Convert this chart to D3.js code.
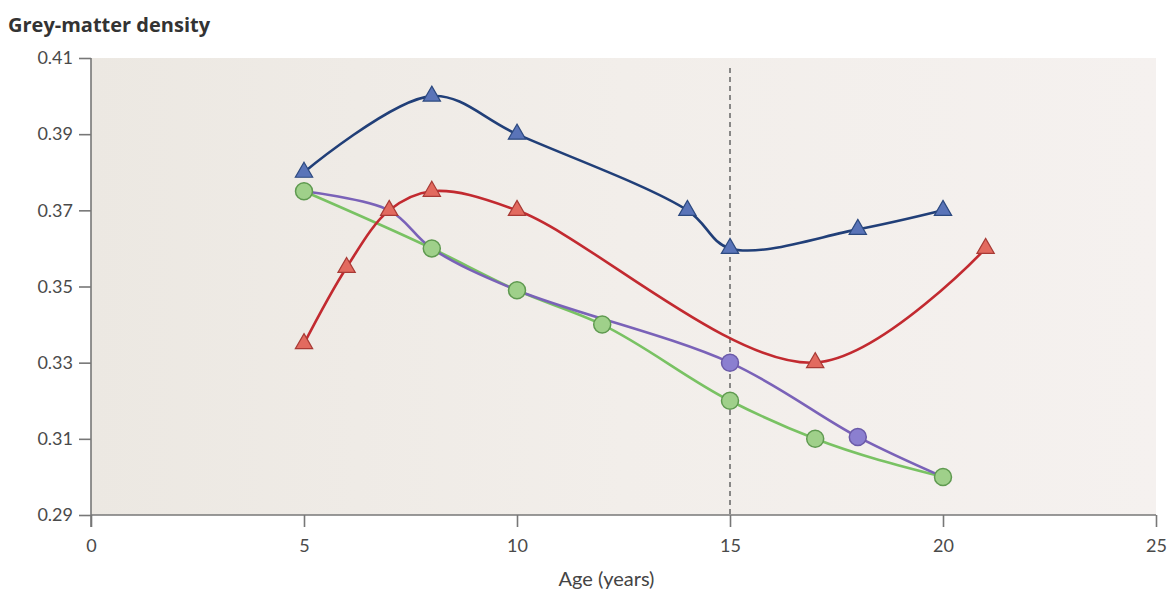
<!DOCTYPE html>
<html>
<head>
<meta charset="utf-8">
<script src="https://cdn.jsdelivr.net/npm/d3@7"></script>
<style>
  body { margin: 0; background: #fff; }
  svg text { font-family: "Open Sans", "Noto Sans", sans-serif; }
  .axis path, .axis line { stroke: #777; stroke-width: 1.6; }
  .axis text { fill: #4a4a4a; font-size: 18px; font-family: Lato, "Open Sans", sans-serif; font-weight: 400; }
</style>
</head>
<body>
<svg id="chart" width="1176" height="593"></svg>
<script>
// data
var blueAge = [5, 8, 10, 14, 15, 18, 20];
var blueVal = [0.380, 0.400, 0.390, 0.370, 0.360, 0.365, 0.370];

var redAge = [5, 6, 7, 8, 10, 17, 21];
var redVal = [0.335, 0.355, 0.370, 0.375, 0.370, 0.330, 0.360];

var purpleAge = [5, 7, 8, 10, 15, 18, 20];
var purpleVal = [0.375, 0.370, 0.360, 0.349, 0.330, 0.3105, 0.300];
var purpleMarked = [15, 18];

var greenAge = [5, 8, 10, 12, 15, 17, 20];
var greenVal = [0.375, 0.360, 0.349, 0.340, 0.320, 0.310, 0.300];

var xTicks = [0, 5, 10, 15, 20, 25];
var yTicks = [0.29, 0.31, 0.33, 0.35, 0.37, 0.39, 0.41];
var markerAge = 15;

var svg = d3.select('#chart'),
   margin = {top: 58, right: 20, bottom: 78, left: 91},
   width = 1156 - margin.left,
   height = 515 - margin.top,
   g = svg.append("g").attr("transform", "translate(" + margin.left + "," + margin.top + ")");

var x = d3.scaleLinear().domain([0, 25]).range([0, width]);
var y = d3.scaleLinear().domain([0.29, 0.41]).range([height, 0]);

var defs = svg.append("defs");
var grad = defs.append("linearGradient").attr("id", "bg").attr("x1", "0").attr("x2", "1").attr("y1", "0").attr("y2", "0");
grad.append("stop").attr("offset", "0").attr("stop-color", "#ece8e2");
grad.append("stop").attr("offset", "0.5").attr("stop-color", "#f2eeea");
grad.append("stop").attr("offset", "1").attr("stop-color", "#f5f1ef");

g.append("rect")
 .attr("width", width)
 .attr("height", height)
 .attr("fill", "url(#bg)");

// dashed reference line
g.append("line")
 .attr("x1", x(markerAge)).attr("x2", x(markerAge))
 .attr("y1", 10).attr("y2", height)
 .attr("stroke", "#666")
 .attr("stroke-width", 1.5)
 .attr("stroke-dasharray", "5,4");

g.append("g")
 .attr("class", "axis")
 .attr("transform", "translate(0," + height + ")")
 .call(d3.axisBottom(x).tickValues(xTicks).tickSize(12).tickPadding(12).tickFormat(d3.format("d")))
 .call(function (a) { a.select(".domain").attr("d", "M0,0H" + width); });

g.append("g")
 .attr("class", "axis")
 .call(d3.axisLeft(y).tickValues(yTicks).tickSize(12).tickPadding(6).tickFormat(d3.format(".2f")))
 .call(function (a) { a.select(".domain").attr("d", "M0,0V" + (height + 12)); });

function pts(ages, vals) {
   return ages.map(function (a, i) { return [a, vals[i]]; });
}

function drawLine(data, color, curve) {
   g.append("path")
    .datum(data)
    .attr("fill", "none")
    .attr("stroke", color)
    .attr("stroke-width", 2.6)
    .attr("d", d3.line()
       .x(function (d) { return x(d[0]); })
       .y(function (d) { return y(d[1]); })
       .curve(curve));
}

var tri = d3.symbol().type(d3.symbolTriangle).size(130);

function drawTriangles(data, fill, stroke) {
   g.selectAll(null)
    .data(data)
    .enter().append("path")
    .attr("d", tri)
    .attr("transform", function (d) { return "translate(" + x(d[0]) + "," + y(d[1]) + ")"; })
    .attr("fill", fill)
    .attr("stroke", stroke)
    .attr("stroke-width", 1.2);
}

function drawCircles(data, fill, stroke) {
   g.selectAll(null)
    .data(data)
    .enter().append("circle")
    .attr("cx", function (d) { return x(d[0]); })
    .attr("cy", function (d) { return y(d[1]); })
    .attr("r", 8.5)
    .attr("fill", fill)
    .attr("stroke", stroke)
    .attr("stroke-width", 1.5);
}

var blue = pts(blueAge, blueVal),
   red = pts(redAge, redVal),
   purple = pts(purpleAge, purpleVal),
   green = pts(greenAge, greenVal);

drawLine(green, "#79c263", d3.curveMonotoneX);
drawLine(purple, "#7a62b8", d3.curveCatmullRom.alpha(0.5));
drawLine(red, "#c22a30", d3.curveCatmullRom.alpha(0.5));
drawLine(blue, "#213f78", d3.curveCatmullRom.alpha(0.5));

drawCircles(purple.filter(function (d) { return purpleMarked.indexOf(d[0]) >= 0; }), "#8b7fd0", "#6a5aa8");
drawCircles(green, "#9fd08a", "#5f9a50");
drawTriangles(red, "#e26a5f", "#a83a35");
drawTriangles(blue, "#5a74b8", "#2d4a80");

svg.append("text")
 .attr("x", 8).attr("y", 32)
 .attr("font-size", 20).attr("font-weight", "bold").attr("fill", "#333")
 .text("Grey-matter density");

svg.append("text")
 .attr("x", margin.left + width / 2 - 17).attr("y", 586)
 .attr("text-anchor", "middle")
 .attr("font-size", 20).attr("fill", "#444")
 .style("font-family", "Lato, 'Open Sans', sans-serif")
 .text("Age (years)");
</script>
</body>
</html>
